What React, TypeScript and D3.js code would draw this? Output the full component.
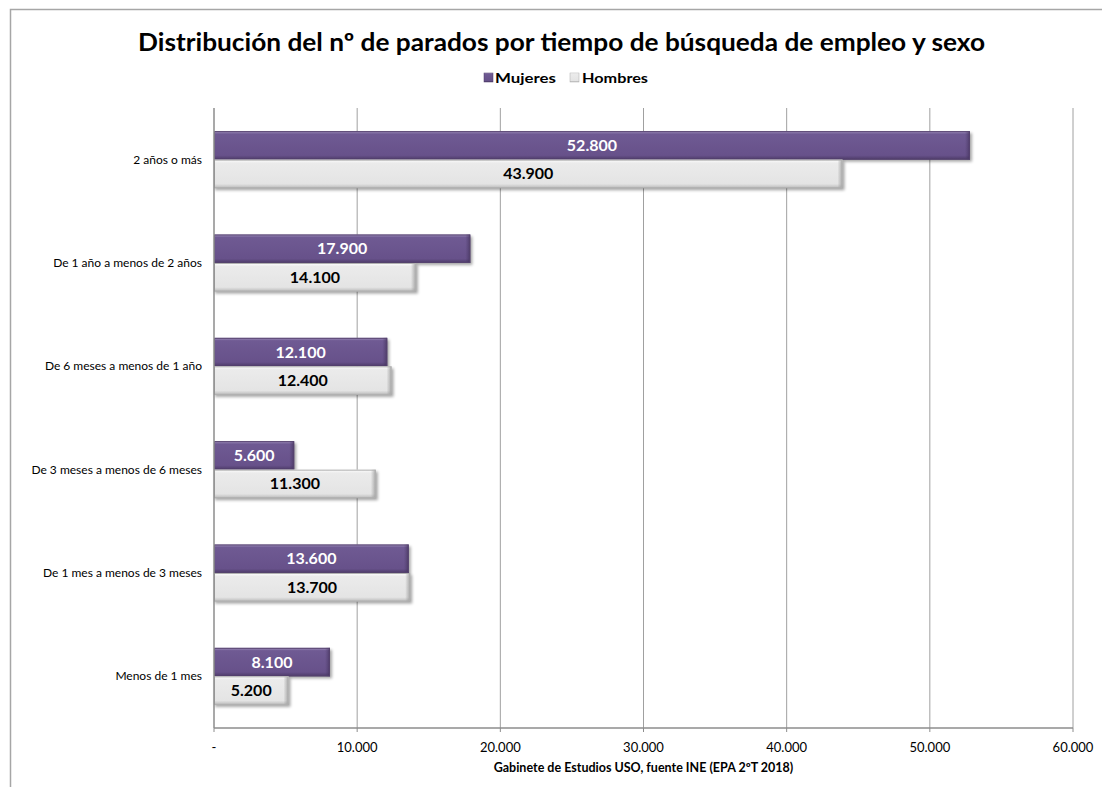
import React from "react";
import * as d3 from "d3";

const categories = [
  "2 años o más",
  "De 1 año a menos de 2 años",
  "De 6 meses a menos de 1 año",
  "De 3 meses a menos de 6 meses",
  "De 1 mes a menos de 3 meses",
  "Menos de 1 mes",
];
const seriesNames = ["Mujeres", "Hombres"];
const mujeres = [52800, 17900, 12100, 5600, 13600, 8100];
const hombres = [43900, 14100, 12400, 11300, 13700, 5200];
const xTicks = [0, 10000, 20000, 30000, 40000, 50000, 60000];

const W = 1102;
const H = 787;
const FONT = "Lato, 'Open Sans', sans-serif";

const locale = d3.formatLocale({ decimal: ",", thousands: ".", grouping: [3], currency: ["", "€"] });
const fmt = locale.format(",.0f");
const tickFmt = (v: number) => (v === 0 ? "-" : fmt(v));

export default function App() {
  const left = 214;
  const right = 1073;
  const top = 108;
  const bottom = 728;

  const x = d3.scaleLinear().domain([0, 60000]).range([left, right]);
  const y = d3.scaleBand<string>().domain(categories).range([top, bottom]).paddingInner(0.448).paddingOuter(0.224);
  const sub = d3.scaleBand<string>().domain(seriesNames).range([0, y.bandwidth()]).padding(0);

  const rows = categories.map((c, i) => ({ c, values: [mujeres[i], hombres[i]] }));

  return (
    <svg width={W} height={H} style={{ position: "absolute", left: 0, top: 0, background: "#fff" }} fontFamily={FONT}>
      <defs>
        <linearGradient id="gM" x1="0" y1="0" x2="0" y2="1">
          <stop offset="0" stopColor="#a898c4" />
          <stop offset="0.1" stopColor="#6f5a93" />
          <stop offset="0.85" stopColor="#67518a" />
          <stop offset="1" stopColor="#4c3a67" />
        </linearGradient>
        <linearGradient id="gH" x1="0" y1="0" x2="0" y2="1">
          <stop offset="0" stopColor="#ffffff" />
          <stop offset="0.12" stopColor="#ebebeb" />
          <stop offset="0.85" stopColor="#e4e4e4" />
          <stop offset="1" stopColor="#b8b8b8" />
        </linearGradient>
        <linearGradient id="gMr" x1="0" y1="0" x2="1" y2="0">
          <stop offset="0" stopColor="#4c3a67" stopOpacity="0" />
          <stop offset="1" stopColor="#3e2f56" stopOpacity="0.7" />
        </linearGradient>
        <linearGradient id="gHr" x1="0" y1="0" x2="1" y2="0">
          <stop offset="0" stopColor="#999" stopOpacity="0" />
          <stop offset="1" stopColor="#999" stopOpacity="0.8" />
        </linearGradient>
        <filter id="sh" x="-5%" y="-20%" width="110%" height="160%">
          <feGaussianBlur stdDeviation="1.5" />
        </filter>
      </defs>

      {/* outer frame */}
      <rect x={10.5} y={9.5} width={1200} height={900} fill="#fff" stroke="#a6a6a6" strokeWidth={1.5} />

      {/* title */}
      <text x={138} y={51} fontSize={25} fontWeight="bold" fill="#000" textLength={847} lengthAdjust="spacingAndGlyphs">
        Distribución del nº de parados por tiempo de búsqueda de empleo y sexo
      </text>

      {/* legend */}
      <g fontSize={14} fontWeight="bold">
        <rect x={484} y={73} width={9} height={9} fill="url(#gM)" stroke="#4c3a67" strokeWidth={0.5} />
        <text x={495} y={83} textLength={61} lengthAdjust="spacingAndGlyphs">Mujeres</text>
        <rect x={570} y={73} width={9} height={9} fill="url(#gH)" stroke="#aaa" strokeWidth={0.5} />
        <text x={582} y={83} textLength={66} lengthAdjust="spacingAndGlyphs">Hombres</text>
      </g>

      {/* gridlines */}
      {xTicks.slice(1).map((t) => (
        <line key={t} x1={x(t)} x2={x(t)} y1={top} y2={bottom} stroke="#a0a0a0" strokeWidth={1} />
      ))}

      {/* bars */}
      {rows.map((r) => (
        <g key={r.c}>
          {r.values.map((v, si) => {
            const by = (y(r.c) as number) + (sub(seriesNames[si]) as number);
            const bh = sub.bandwidth();
            const bx = x(0);
            const bw = x(v) - x(0);
            const isM = si === 0;
            return (
              <g key={si}>
                <rect x={bx + 1} y={by + 2} width={bw + 1} height={bh} fill="#000" opacity={0.35} filter="url(#sh)" />
                <rect x={bx} y={by} width={bw} height={bh} fill={isM ? "url(#gM)" : "url(#gH)"} />
                <rect x={bx + bw - 5} y={by} width={5} height={bh} fill={isM ? "url(#gMr)" : "url(#gHr)"} />
                <rect x={bx + 0.5} y={by + 0.5} width={bw - 1} height={bh - 1} fill="none" stroke={isM ? "#56436f" : "#b0b0b0"} strokeWidth={1} />
                <text
                  x={bx + bw / 2}
                  y={by + bh / 2 + 5.5}
                  textAnchor="middle"
                  fontSize={16}
                  fontWeight="bold"
                  fill={isM ? "#fff" : "#000"}
                >
                  {fmt(v)}
                </text>
              </g>
            );
          })}
        </g>
      ))}

      {/* axes */}
      <line x1={left} x2={left} y1={top} y2={bottom} stroke="#8c8c8c" strokeWidth={1.5} />
      <line x1={left} x2={right} y1={bottom} y2={bottom} stroke="#8c8c8c" strokeWidth={1.5} />
      {xTicks.map((t) => (
        <g key={t}>
          <line x1={x(t)} x2={x(t)} y1={bottom} y2={bottom + 4} stroke="#8c8c8c" strokeWidth={1} />
          <text x={x(t)} y={752} textAnchor="middle" fontSize={13} fill="#000">
            {tickFmt(t)}
          </text>
        </g>
      ))}

      {/* category labels */}
      {categories.map((c) => (
        <text key={c} x={202} y={(y(c) as number) + y.bandwidth() / 2 + 4} textAnchor="end" fontSize={12} fill="#000">
          {c}
        </text>
      ))}

      {/* axis title */}
      <text x={(left + right) / 2} y={772} textAnchor="middle" fontSize={12.5} fontWeight="bold" fill="#000">
        Gabinete de Estudios USO, fuente INE (EPA 2ºT 2018)
      </text>
    </svg>
  );
}
